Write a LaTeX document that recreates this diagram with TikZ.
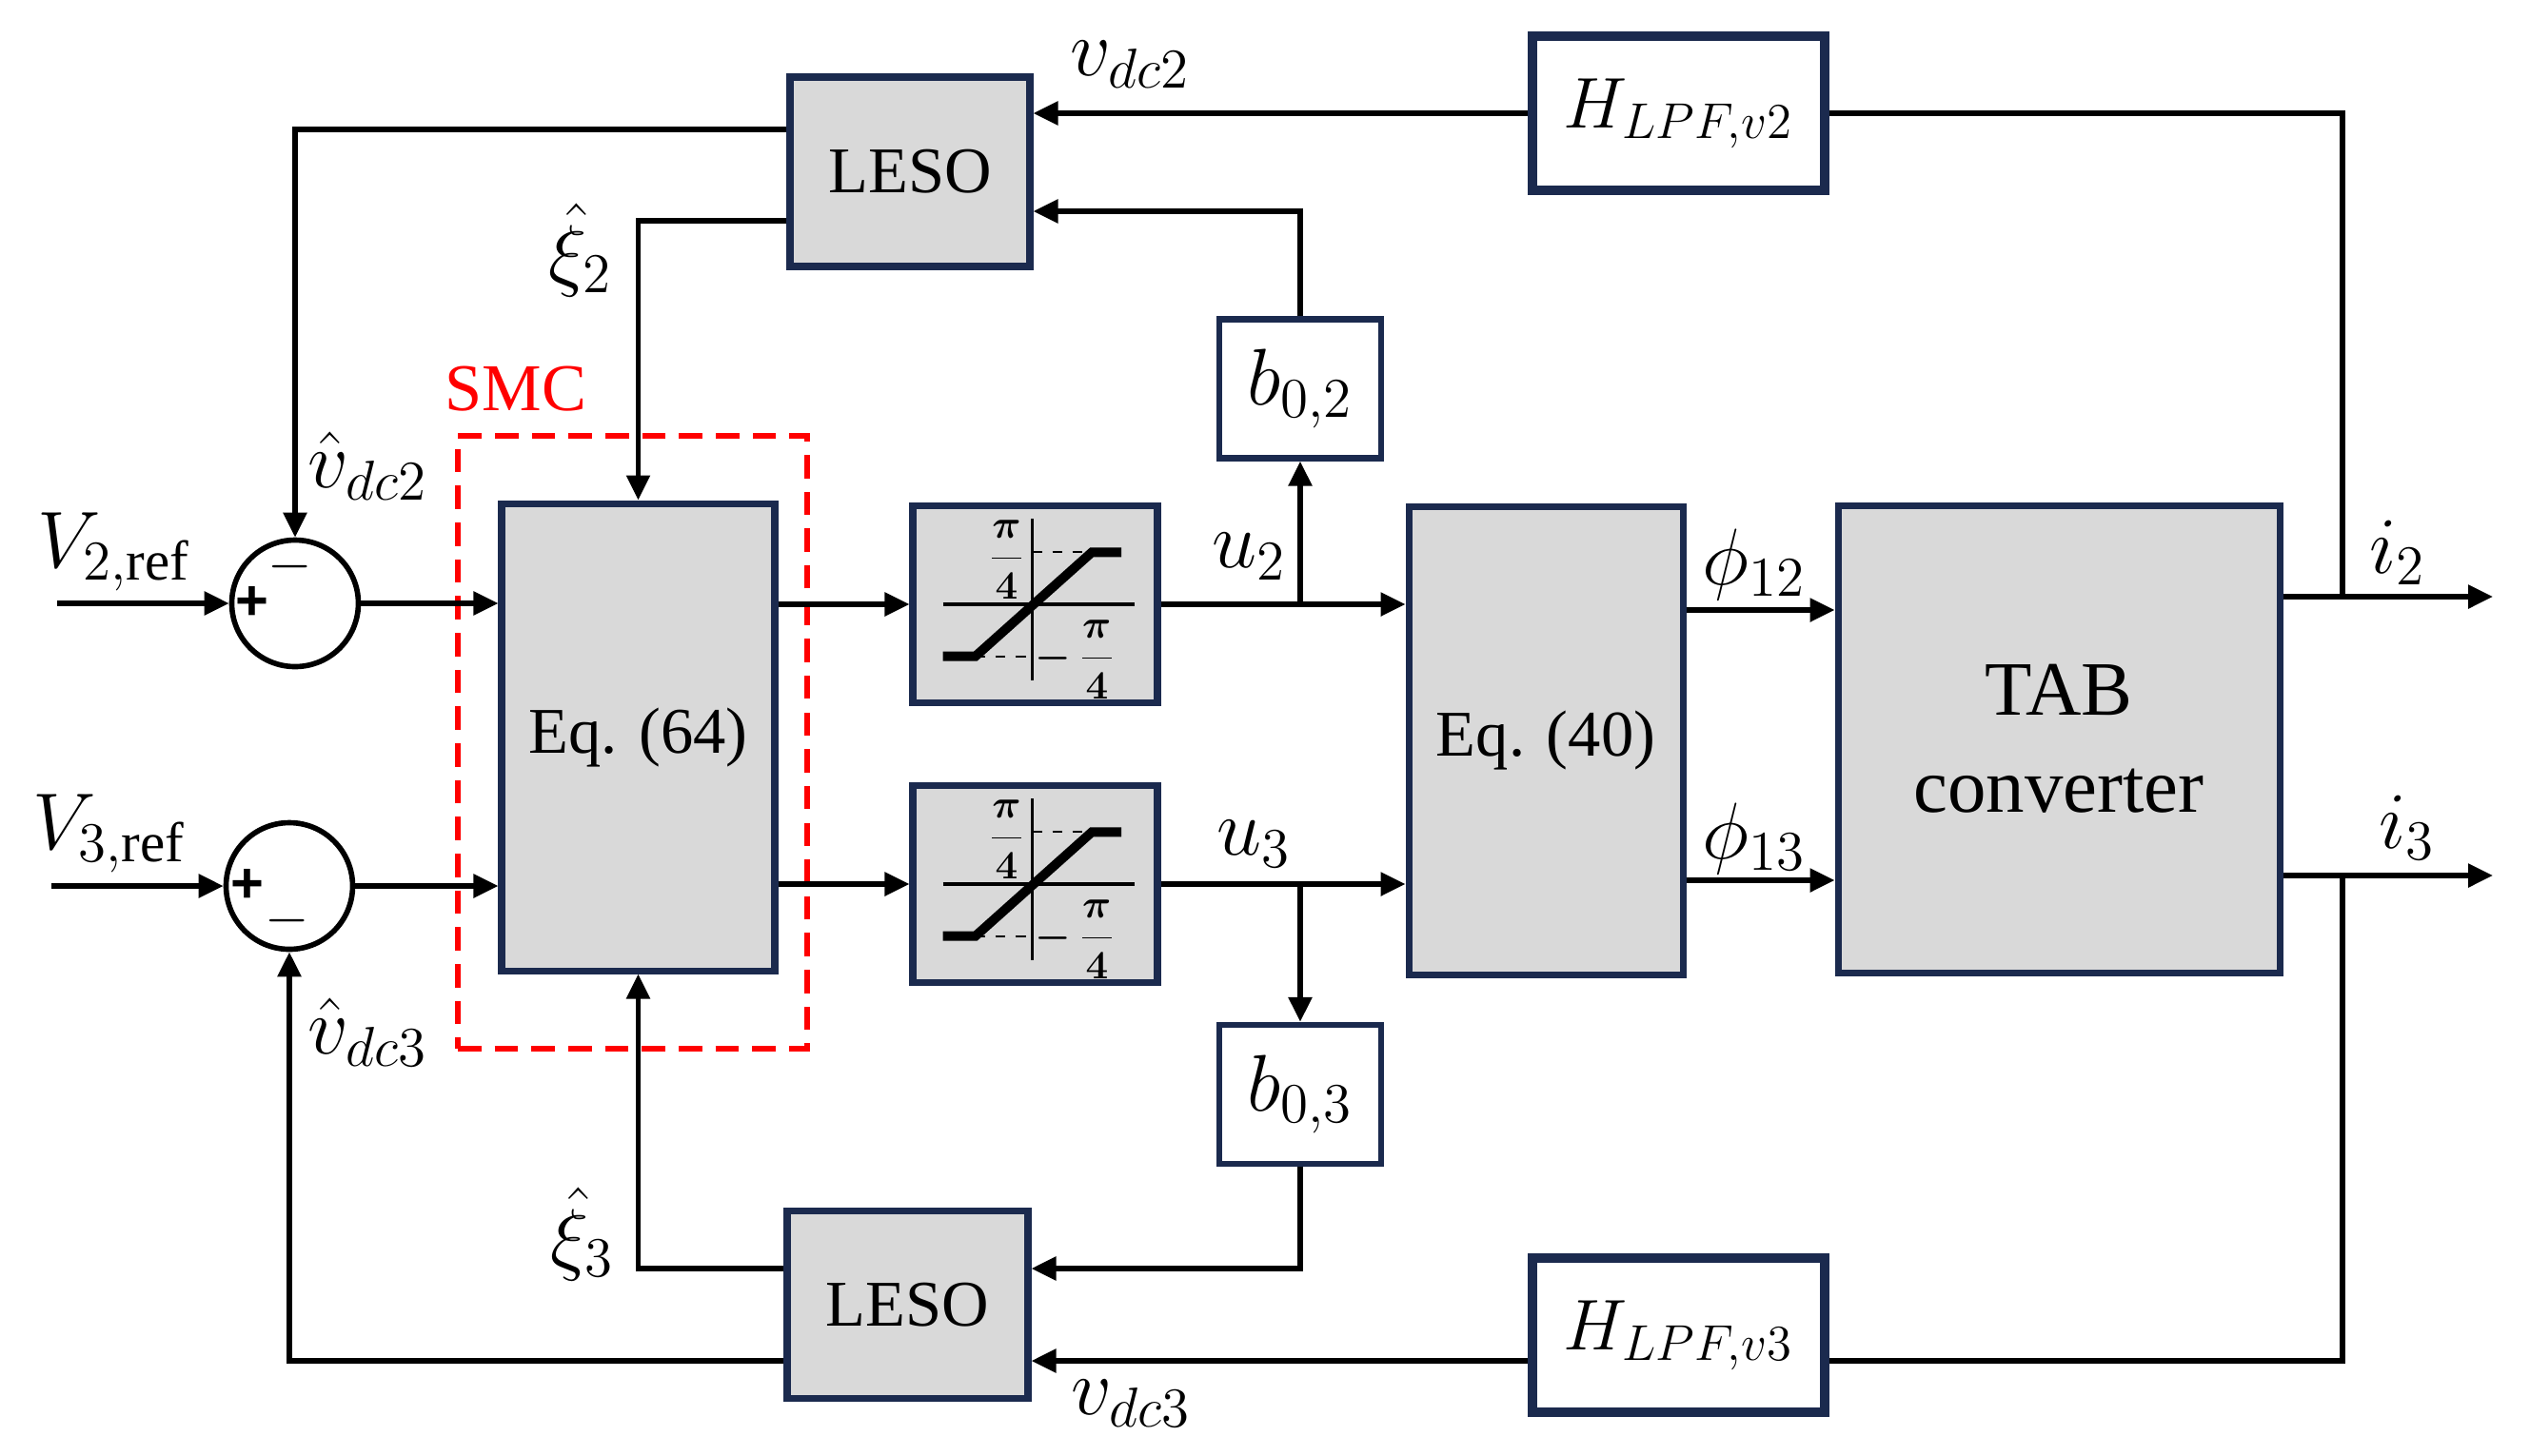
\RequirePackage{fix-cm}
\documentclass[tikz,border=0pt]{standalone}
\usepackage{amsmath}
\usepackage{fontspec}
\setmainfont{Liberation Serif}
\newfontfamily\signfont{Liberation Sans}
\usetikzlibrary{arrows.meta,calc}
\definecolor{boxline}{RGB}{27,42,78}
\definecolor{boxfill}{RGB}{217,217,217}
\tikzset{
  blk/.style={draw=boxline, fill=boxfill, line width=2pt, inner sep=0pt, align=center, font=\fontsize{19.5}{24}\selectfont},
  gain/.style={draw=boxline, fill=white, line width=1.8pt, inner sep=0pt, minimum width=1.7cm, minimum height=1.46cm, font=\fontsize{24}{28}\selectfont},
  lpf/.style={draw=boxline, fill=white, line width=2.6pt, inner sep=0pt, minimum width=3.07cm, minimum height=1.62cm, font=\fontsize{21.5}{26}\selectfont},
  sumnode/.style={draw, circle, line width=1.6pt, minimum size=1.33cm, inner sep=0pt},
  sign/.style={inner sep=0pt, font=\fontsize{17}{19}\signfont\bfseries},
  sig/.style={line width=1.6pt, -{Triangle[length=0.26cm,width=0.24cm]}},
  wire/.style={line width=1.6pt},
  lbl/.style={inner sep=0pt, font=\fontsize{24}{28}\selectfont},
}
\begin{document}
\begin{tikzpicture}
\useasboundingbox (0,0) rectangle (26.58,-15.29);
% SMC frame
\node[draw=red, dashed, dash pattern=on 7pt off 4pt, line width=1.6pt, minimum width=3.67cm, minimum height=6.44cm] (smc) at (6.645,-7.80) {};
\node[inner sep=0pt, font=\fontsize{20}{24}\selectfont, text=red] (smclbl) at (5.42,-4.09) {SMC};
% blocks
\node[blk, minimum width=2.52cm, minimum height=1.99cm] (lesoA) at (9.56,-1.805) {LESO};
\node[blk, minimum width=2.53cm, minimum height=1.97cm] (lesoB) at (9.535,-13.71) {LESO};
\node[blk, minimum width=2.87cm, minimum height=4.91cm] (eqA) at (6.705,-7.745) {Eq. (64)};
\node[blk, minimum width=2.88cm, minimum height=4.92cm] (eqB) at (16.24,-7.78) {Eq. (40)};
\node[blk, minimum width=4.64cm, minimum height=4.91cm, font=\fontsize{23}{29}\selectfont] (tab) at (21.63,-7.765) {TAB\\converter};
\node[blk, minimum width=2.57cm, minimum height=2.07cm] (satA) at (10.875,-6.35) {};
\node[blk, minimum width=2.57cm, minimum height=2.07cm] (satB) at (10.875,-9.29) {};
\node[gain] (bA) at (13.66,-4.085) {$b_{0,2}$};
\node[gain] (bB) at (13.66,-11.50) {$b_{0,3}$};
\node[lpf] (hA) at (17.635,-1.19) {$H_{LPF,v2}$};
\node[lpf] (hB) at (17.635,-14.03) {$H_{LPF,v3}$};
\node[sumnode] (sumA) at (3.10,-6.34) {};
\node[sumnode] (sumB) at (3.04,-9.31) {};
\node[sign] (sumAp) at ([xshift=-0.45cm]sumA.center) {+};
\node[sign] (sumAm) at ([xshift=-0.05cm,yshift=0.38cm]sumA.center) {$-$};
\node[sign] (sumBp) at ([xshift=-0.44cm]sumB.center) {+};
\node[sign] (sumBm) at ([xshift=-0.02cm,yshift=-0.37cm]sumB.center) {$-$};
% saturation curves
\foreach \s in {satA,satB} {
  \begin{scope}[shift={(\s.center)}]
    \draw[line width=0.9pt] (-0.97,0) -- (1.04,0) (-0.03,0.90) -- (-0.03,-0.80);
    \draw[dashed, line width=0.6pt] (-0.03,0.546) -- (0.595,0.546) (-0.627,-0.546) -- (-0.03,-0.546);
    \draw[line width=2.8pt] (-0.97,-0.546) -- (-0.627,-0.546) -- (0.595,0.546) -- (0.906,0.546);
    \node[inner sep=0pt, font=\fontsize{12}{14}\selectfont\boldmath] at (-0.30,0.47) {$\dfrac{\pi}{4}$};
    \node[inner sep=0pt, font=\fontsize{12}{14}\selectfont\boldmath] at (0.42,-0.58) {$-\,\dfrac{\pi}{4}$};
  \end{scope}}
% junctions and levels
\coordinate (inA) at (0.60,-6.34);
\coordinate (inB) at (0.54,-9.31);
\coordinate (yA1) at (0,-1.36);
\coordinate (yA2) at (0,-2.32);
\coordinate (yA3) at (0,-2.22);
\coordinate (yB1) at (0,-13.33);
\coordinate (yB2) at (0,-14.30);
\coordinate (yP1) at (0,-6.41);
\coordinate (yP2) at (0,-9.25);
\coordinate (jA) at (24.61,-6.27);
\coordinate (jB) at (24.61,-9.20);
\coordinate (outA) at (26.19,-6.27);
\coordinate (outB) at (26.19,-9.20);
% forward path
\draw[sig] (inA) -- (sumA.west);
\draw[sig] (inB) -- (sumB.west);
\draw[sig] (sumA.east) -- (sumA.east -| eqA.west);
\draw[sig] (sumB.east) -- (sumB.east -| eqA.west);
\draw[sig] (eqA.east |- satA.west) -- (satA.west);
\draw[sig] (eqA.east |- satB.west) -- (satB.west);
\draw[sig] (satA.east) -- (satA.east -| eqB.west);
\draw[sig] (satB.east) -- (satB.east -| eqB.west);
\draw[sig] (bA.south |- satA.east) -- (bA.south);
\draw[sig] (bB.north |- satB.east) -- (bB.north);
\draw[sig] (eqB.east |- yP1) -- (tab.west |- yP1);
\draw[sig] (eqB.east |- yP2) -- (tab.west |- yP2);
\draw[sig] (tab.east |- jA) -- (outA);
\draw[sig] (tab.east |- jB) -- (outB);
% observers
\draw[wire] (hA.east) -| (jA);
\draw[sig] (hA.west) -- (hA.west -| lesoA.east);
\draw[sig] (bA.north) |- (lesoA.east |- yA3);
\draw[sig] (lesoA.west |- yA1) -| (sumA.north);
\draw[sig] (lesoA.west |- yA2) -| (eqA.north);
\draw[wire] (jB) |- (hB.east |- yB2);
\draw[sig] (hB.west |- yB2) -- (lesoB.east |- yB2);
\draw[sig] (bB.south) |- (lesoB.east |- yB1);
\draw[sig] (lesoB.west |- yB1) -| (eqA.south);
\draw[sig] (lesoB.west |- yB2) -| (sumB.south);
% signal labels
\node[lbl] (lvA) at (11.87,-0.68) {$v_{dc2}$};
\node[lbl] (lvB) at (11.88,-14.75) {$v_{dc3}$};
\node[lbl] (lxiA) at (6.10,-2.63) {$\hat{\xi}_2$};
\node[lbl] (lxiB) at (6.12,-12.97) {$\hat{\xi}_3$};
\node[lbl] (lvhA) at (3.86,-4.90) {$\hat{v}_{dc2}$};
\node[lbl] (lvhB) at (3.86,-10.85) {$\hat{v}_{dc3}$};
\node[lbl] (lrefA) at (1.20,-5.80) {$V_{2,\mathrm{ref}}$};
\node[lbl] (lrefB) at (1.15,-8.76) {$V_{3,\mathrm{ref}}$};
\node[lbl] (luA) at (13.12,-5.85) {$u_2$};
\node[lbl] (luB) at (13.17,-8.87) {$u_3$};
\node[lbl] (lphA) at (18.43,-5.93) {$\phi_{12}$};
\node[lbl] (lphB) at (18.43,-8.81) {$\phi_{13}$};
\node[lbl] (liA) at (25.19,-5.81) {$i_2$};
\node[lbl] (liB) at (25.29,-8.70) {$i_3$};
\end{tikzpicture}
\end{document}
